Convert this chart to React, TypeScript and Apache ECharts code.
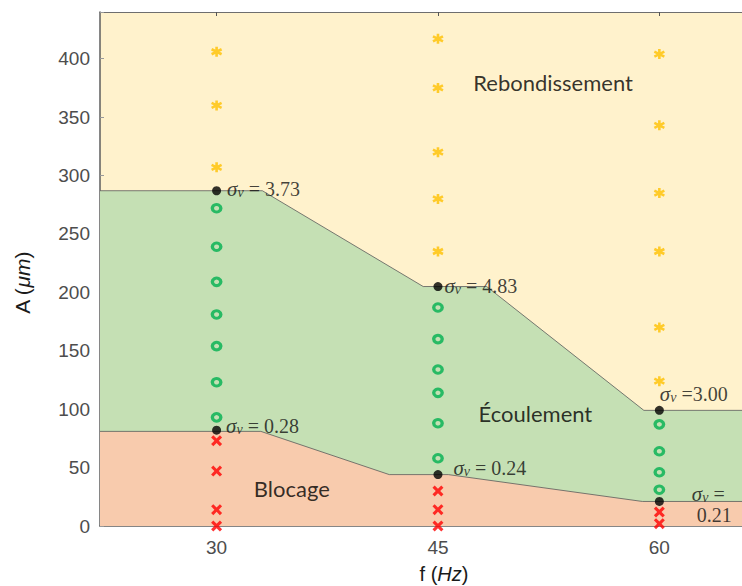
import React, { useEffect, useRef } from "react";
import * as echarts from "echarts";

// ---- axis ticks ----
const freqTicks = [30, 45, 60];
const xMin = 22.1;
const xMax = 65.6;
const yMax = 440;
const yStep = 50;

// ---- observed points (A in µm) per frequency ----
const rebond30 = [406, 360, 307];
const rebond45 = [417, 375, 320, 280, 235];
const rebond60 = [404, 343, 285, 235, 170, 124];
const ecoul30 = [272, 239, 209, 181, 154, 123, 93];
const ecoul45 = [187, 160, 134, 114, 88, 58];
const ecoul60 = [87, 64, 46, 31];
const bloc30 = [73, 47, 14, 0];
const bloc45 = [30, 14, 0];
const bloc60 = [12, 2];

// ---- transition points with sigma_v ----
const transF = [30, 30, 45, 45, 60, 60];
const transA = [287, 82, 205, 44, 99, 21];
const transSigma = ["3.73", "0.28", "4.83", "0.24", "3.00", "0.21"];

// ---- region boundaries ----
const upperF = [22.1, 33.1, 44.0, 48.3, 58.95, 65.6];
const upperA = [287, 287, 205, 205, 99, 99];
const lowerF = [22.1, 33.0, 41.7, 45.7, 58.85, 65.6];
const lowerA = [81, 81, 44, 44, 21, 21];

// ---- region names ----
const regionNames = ["Rebondissement", "Écoulement", "Blocage"];
const regionF = [52.8, 51.6, 35.1];
const regionA = [380, 96, 32];

const pts = (f: number, arr: number[]) => arr.map((a) => [f, a]);

const sigmaLabelStyle: any[] = [
  { distance: 6, offset: [0, -2] },
  { distance: 5, offset: [0, -4] },
  { distance: 2, offset: [0, -1] },
  { distance: 11, offset: [0, -7] },
  { distance: 0, offset: [-4, -16] },
  { distance: 28, offset: [0, 3] },
];

const serif = "'Liberation Serif', 'DejaVu Serif', serif";
const sans = "'Liberation Sans', Arial, sans-serif";

export default function App() {
  const ref = useRef<HTMLDivElement>(null);
  useEffect(() => {
    if (!ref.current) return;
    const chart = echarts.init(ref.current, null, { renderer: "svg" });

    const sigmaData = transF.map((f, i) => {
      const s = transSigma[i];
      let text: string;
      if (i === 5) text = `{s|σ}{v|ν}{t| =}\n{t| ${s}}`;
      else if (i === 4) text = `{s|σ}{v|ν}{t| =${s}}`;
      else text = `{s|σ}{v|ν}{t| = ${s}}`;
      return {
        value: [f, transA[i]],
        label: {
          show: true,
          position: "right",
          distance: sigmaLabelStyle[i].distance,
          offset: sigmaLabelStyle[i].offset,
          formatter: text,
        },
      };
    });

    const rich = {
      s: { fontFamily: serif, fontStyle: "italic", fontSize: 21, lineHeight: 21, verticalAlign: "middle", color: "#111" },
      v: { fontFamily: serif, fontStyle: "italic", fontSize: 14, lineHeight: 8, verticalAlign: "bottom", color: "#111" },
      t: { fontFamily: serif, fontSize: 20, lineHeight: 21, verticalAlign: "middle", color: "#111" },
    };

    const option: any = {
      animation: false,
      grid: {
        left: 100,
        right: 0,
        top: 12,
        bottom: 60,
        show: true,
        backgroundColor: "#FFF2CC",
        borderWidth: 0,
      },
      xAxis: [
        {
          type: "value",
          min: xMin,
          max: xMax,
          position: "bottom",
          splitLine: { show: false },
          axisLine: { show: true, lineStyle: { color: "#5e5e5e", width: 1.5 } },
          axisTick: { show: true, inside: true, length: 4, customValues: freqTicks, lineStyle: { color: "#555" } },
          axisLabel: { customValues: freqTicks, color: "#4d4d4d", fontFamily: sans, fontSize: 19, margin: 12 },
        },
        {
          type: "value",
          min: xMin,
          max: xMax,
          position: "top",
          splitLine: { show: false },
          axisLine: { show: true, onZero: false, lineStyle: { color: "#6e6e6e", width: 1.2 } },
          axisTick: { show: true, inside: true, length: 4, customValues: freqTicks, lineStyle: { color: "#555" } },
          axisLabel: { show: false },
        },
      ],
      yAxis: {
        type: "value",
        min: 0,
        max: yMax,
        interval: yStep,
        splitLine: { show: false },
        axisLine: { show: true, lineStyle: { color: "#5e5e5e", width: 1.5 } },
        axisTick: { show: true, inside: true, length: 4, lineStyle: { color: "#999" } },
        axisLabel: {
          color: "#4d4d4d",
          fontFamily: sans,
          fontSize: 19,
          margin: 10,
          formatter: (v: number) => (v > 400 ? "" : String(v)),
        },
      },
      graphic: [
        {
          type: "text",
          x: 22,
          y: 283,
          rotation: Math.PI / 2,
          style: {
            text: "{a|A (}{b|μm}{a|)}",
            align: "center",
            verticalAlign: "middle",
            rich: {
              a: { fontFamily: sans, fontSize: 21, fill: "#1a1a1a" },
              b: { fontFamily: sans, fontSize: 21, fontStyle: "italic", fill: "#1a1a1a" },
            },
          },
        },
        {
          type: "text",
          x: 444,
          y: 574,
          style: {
            text: "{a|f (}{b|Hz}{a|)}",
            align: "center",
            verticalAlign: "middle",
            rich: {
              a: { fontFamily: sans, fontSize: 20, lineHeight: 22, fill: "#1a1a1a" },
              b: { fontFamily: sans, fontSize: 20, lineHeight: 22, fontStyle: "italic", fill: "#1a1a1a" },
            },
          },
        },
      ],
      series: [
        {
          type: "line",
          data: upperF.map((f, i) => [f, upperA[i]]),
          symbol: "none",
          lineStyle: { color: "#5a5a5a", width: 0.8 },
          areaStyle: { color: "#C5E0B4", opacity: 1, origin: "start" },
          z: 1,
        },
        {
          type: "line",
          data: lowerF.map((f, i) => [f, lowerA[i]]),
          symbol: "none",
          lineStyle: { color: "#5a5a5a", width: 0.8 },
          areaStyle: { color: "#F8CBAD", opacity: 1, origin: "start" },
          z: 2,
        },
        {
          type: "scatter",
          data: [...pts(30, rebond30), ...pts(45, rebond45), ...pts(60, rebond60)],
          symbol: "path://M5,0L5,10M0.67,2.5L9.33,7.5M0.67,7.5L9.33,2.5",
          symbolSize: 10,
          itemStyle: { color: "none", borderColor: "#FFC000", borderWidth: 2.6 },
          z: 5,
        },
        {
          type: "scatter",
          data: [...pts(30, ecoul30), ...pts(45, ecoul45), ...pts(60, ecoul60)],
          symbol: "circle",
          symbolSize: [8.5, 7.5],
          itemStyle: { color: "rgba(0,0,0,0)", borderColor: "#00B050", borderWidth: 3.2 },
          z: 5,
        },
        {
          type: "scatter",
          data: [...pts(30, bloc30), ...pts(45, bloc45), ...pts(60, bloc60)],
          symbol:
            "path://M0,2L2,0L5,3L8,0L10,2L7,5L10,8L8,10L5,7L2,10L0,8L3,5Z",
          symbolSize: 11,
          itemStyle: { color: "#FF0000" },
          z: 5,
        },
        {
          type: "scatter",
          data: sigmaData,
          symbol: "circle",
          symbolSize: 9,
          itemStyle: { color: "#000" },
          label: { rich },
          z: 6,
        },
        {
          type: "scatter",
          data: regionNames.map((n, i) => ({ value: [regionF[i], regionA[i]], name: n })),
          symbolSize: 0,
          label: {
            show: true,
            position: "inside",
            formatter: (p: any) => p.name,
            fontFamily: "Lato, 'Open Sans', sans-serif",
            fontSize: 22,
            color: "#000",
          },
          z: 4,
        },
      ],
    };

    chart.setOption(option);
    return () => chart.dispose();
  }, []);

  return (
    <div
      ref={ref}
      style={{ position: "fixed", left: 0, top: 0, width: 742, height: 586, background: "#fff" }}
    />
  );
}
